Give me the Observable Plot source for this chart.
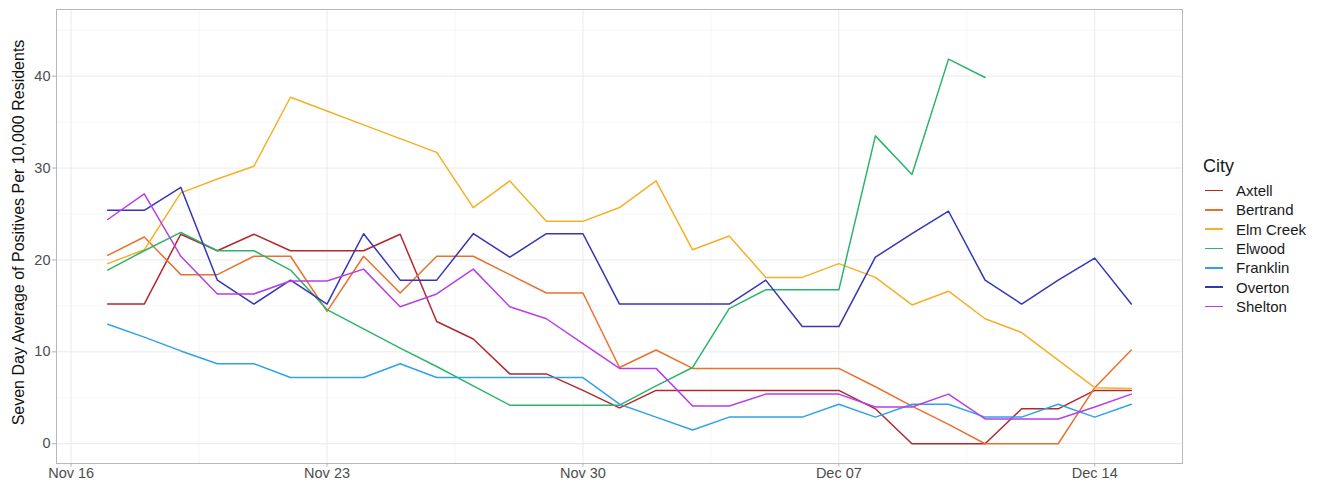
<!DOCTYPE html>
<html><head><meta charset="utf-8">
<script src="https://cdn.jsdelivr.net/npm/d3@7"></script>
<script src="https://cdn.jsdelivr.net/npm/@observablehq/plot@0.6"></script>
<style>
body{margin:0;background:#fff;font-family:"Liberation Sans",Arial,Helvetica,sans-serif;}
#wrap{position:relative;width:1322px;height:482px;overflow:hidden;}
#legend{position:absolute;left:1203px;top:155px;color:#1a1a1a;}
#legend .ttl{font-size:18px;line-height:22px;height:22px;margin-bottom:4px;}
#legend .row{display:flex;align-items:center;height:19.3px;font-size:15px;}
#legend .key{width:18px;height:1.6px;margin-left:2px;margin-right:13px;}
</style></head><body><div id="wrap"></div>
<script>
const dates = ["2020-11-17","2020-11-18","2020-11-19","2020-11-20","2020-11-21","2020-11-22","2020-11-23","2020-11-24","2020-11-25","2020-11-26","2020-11-27","2020-11-28","2020-11-29","2020-11-30","2020-12-01","2020-12-02","2020-12-03","2020-12-04","2020-12-05","2020-12-06","2020-12-07","2020-12-08","2020-12-09","2020-12-10","2020-12-11","2020-12-12","2020-12-13","2020-12-14","2020-12-15"];
const cities = ["Axtell","Bertrand","Elm Creek","Elwood","Franklin","Overton","Shelton"];
const cityColors = ["#b2282b","#e8712d","#f5b026","#2db46a","#30a2e8","#3535b8","#b83ee6"];
const axtell   = [15.2,15.2,22.8,21.0,22.8,21.0,21.0,21.0,22.8,13.3,11.4,7.6,7.6,5.8,3.9,5.8,5.8,5.8,5.8,5.8,5.8,3.8,0,0,0,3.8,3.8,5.8,5.8];
const bertrand = [20.5,22.5,18.4,18.4,20.4,20.4,14.4,20.4,16.4,20.4,20.4,18.4,16.4,16.4,8.3,10.2,8.2,8.2,8.2,8.2,8.2,6.2,4.1,2.1,0,0,0,6.1,10.2];
const elmCreek = [19.6,21.1,27.3,28.8,30.2,37.7,36.2,34.7,33.2,31.7,25.7,28.6,24.2,24.2,25.7,28.6,21.1,22.6,18.1,18.1,19.6,18.1,15.1,16.6,13.6,12.1,9.1,6.1,6.0];
const elwood   = [18.9,21.0,23.0,21.0,21.0,18.9,14.6,12.5,10.4,8.4,6.3,4.2,4.2,4.2,4.2,6.3,8.3,14.7,16.75,16.75,16.75,33.5,29.3,41.85,39.85];
const franklin = [13.0,11.6,10.1,8.7,8.7,7.2,7.2,7.2,8.7,7.2,7.2,7.2,7.2,7.2,4.3,2.9,1.5,2.9,2.9,2.9,4.3,2.9,4.3,4.3,2.9,2.9,4.3,2.9,4.3];
const overton  = [25.4,25.4,27.9,17.8,15.2,17.8,15.2,22.85,17.8,17.8,22.85,20.3,22.85,22.85,15.2,15.2,15.2,15.2,17.8,12.75,12.75,20.3,22.85,25.3,17.8,15.2,17.8,20.2,15.2];
const shelton  = [24.4,27.2,20.4,16.3,16.3,17.7,17.7,19.0,14.9,16.3,19.0,14.9,13.6,10.9,8.2,8.2,4.1,4.1,5.4,5.4,5.4,4.0,4.0,5.4,2.7,2.7,2.7,4.0,5.4];
const xTicks = ["2020-11-16","2020-11-23","2020-11-30","2020-12-07","2020-12-14"];
const xMinor = ["2020-11-19T12:00","2020-11-26T12:00","2020-12-03T12:00","2020-12-10T12:00"];
const yTicks = [0,10,20,30,40];
const yMinor = [5,15,25,35,45];
const xDomain = ["2020-11-15T14:24","2020-12-16T09:36"];
const yDomain = [-2.15,47.25];
const yTitle = "Seven Day Average of Positives Per 10,000 Residents";

const parse = s => new Date(s + (s.length === 10 ? "T00:00:00Z" : ":00Z"));
const series = [axtell,bertrand,elmCreek,elwood,franklin,overton,shelton];
const rows = [];
series.forEach((vals,i) => vals.forEach((v,j) => rows.push({city: cities[i], date: parse(dates[j]), value: v})));

const grid = "#ebebeb";
const plot = Plot.plot({
  width: 1322, height: 482,
  marginLeft: 56, marginRight: 140, marginTop: 9, marginBottom: 19,
  style: {fontFamily: '"Liberation Sans", Arial, sans-serif', fontSize: "14.5px", color: "#4d4d4d", background: "#fff", overflow: "visible"},
  x: {type: "utc", domain: xDomain.map(parse)},
  y: {domain: yDomain},
  color: {domain: cities, range: cityColors},
  marks: [
    Plot.gridX(xMinor.map(parse), {stroke: "#f4f4f4", strokeOpacity: 1, strokeWidth: 0.8}),
    Plot.gridY(yMinor, {stroke: "#f4f4f4", strokeOpacity: 1, strokeWidth: 0.8}),
    Plot.gridX(xTicks.map(parse), {stroke: grid, strokeOpacity: 1, strokeWidth: 1}),
    Plot.gridY(yTicks, {stroke: grid, strokeOpacity: 1, strokeWidth: 1}),
    Plot.frame({stroke: "#b8b8b8", strokeWidth: 1}),
    Plot.axisX(xTicks.map(parse), {tickFormat: d3.utcFormat("%b %d"), tickSize: 3.5, tickPadding: 1, stroke: "#b3b3b3", fill: "#4d4d4d", label: null}),
    Plot.axisY(yTicks, {tickSize: 4, tickPadding: 2, stroke: "#b3b3b3", fill: "#4d4d4d", label: null}),
    Plot.text([yTitle], {frameAnchor: "left", textAnchor: "middle", lineAnchor: "middle", rotate: -90, dx: -38, dy: -4, fontSize: 16, fill: "#111"}),
    Plot.lineY(rows, {x: "date", y: "value", z: "city", stroke: "city", strokeWidth: 1.5})
  ]
});
const wrap = document.getElementById("wrap");
wrap.appendChild(plot);

const leg = d3.select(wrap).append("div").attr("id","legend");
leg.append("div").attr("class","ttl").text("City");
cities.forEach((c,i) => {
  const r = leg.append("div").attr("class","row");
  r.append("div").attr("class","key").style("background", cityColors[i]);
  r.append("span").text(c);
});
</script></body></html>
